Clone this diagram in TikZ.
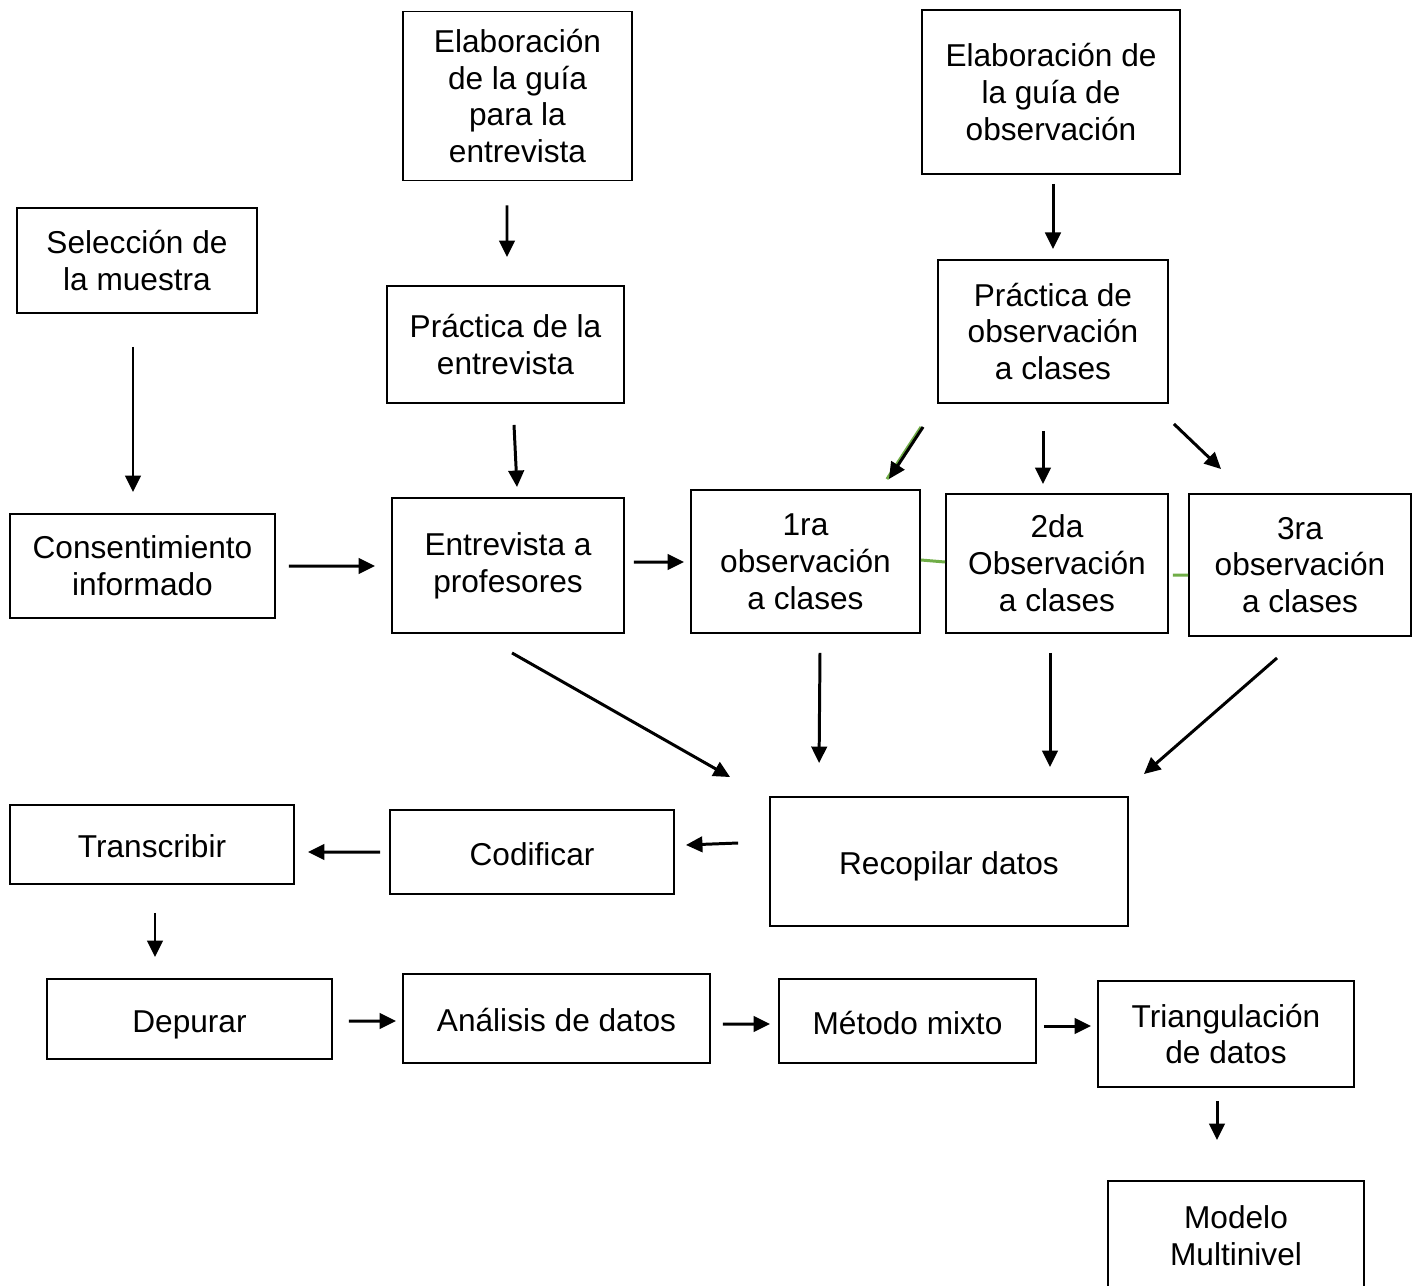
\documentclass[tikz,border=0pt]{standalone}
\usepackage{fontspec}
\setmainfont{Liberation Sans}
\usetikzlibrary{calc}
\usetikzlibrary{arrows.meta}

\definecolor{ogreen}{RGB}{112,173,71}

\begin{document}
\begin{tikzpicture}[x=0.02cm, y=-0.02cm,
    box/.style={draw, line width=1.1pt, inner sep=0pt, align=center,
        font=\fontsize{18}{21}\selectfont},
    one/.style={text height=0.65cm, text depth=0.13cm},
    arr/.style={line width=1.7pt, -{Triangle[length=0.33cm, width=0.31cm]}},
    grn/.style={draw=ogreen, line width=1.7pt}]
\clip (0, 0) rectangle (1418, 1286);
\fill[white] (0, 0) rectangle (1418, 1286);

% top row
\node[box, minimum width=4.58cm, minimum height=3.38cm] (eg) at (517.5, 96)
    {Elaboración\\de la guía\\para la\\entrevista};
\node[box, minimum width=5.16cm, minimum height=3.28cm] (eo) at (1051, 92)
    {Elaboración de\\la guía de\\observación};
\node[box, minimum width=4.8cm, minimum height=2.1cm] (sel) at (137, 260.5)
    {Selección de\\la muestra};
\node[box, minimum width=4.74cm, minimum height=2.34cm] (pe) at (505.5, 344.5)
    {Práctica de la\\entrevista};
\node[box, minimum width=4.6cm, minimum height=2.86cm] (po) at (1053, 331.5)
    {Práctica de\\observación\\a clases};

% middle row
\node[box, minimum width=5.3cm, minimum height=2.08cm] (cons) at (142.5, 566)
    {Consentimiento\\informado};
\node[box, minimum width=4.64cm, minimum height=2.7cm] (ent) at (508, 565.5)
    {Entrevista a\\profesores};
\node[box, minimum width=4.58cm, minimum height=2.86cm] (obs1) at (805.5, 561.5)
    {1ra\\observación\\a clases};
\node[box, minimum width=4.44cm, minimum height=2.78cm] (obs2) at (1057, 563.5)
    {2da\\Observación\\a clases};
\node[box, minimum width=4.44cm, minimum height=2.84cm] (obs3) at (1300, 565)
    {3ra\\observación\\a clases};

% lower rows
\node[box, one, minimum width=7.16cm, minimum height=2.58cm] (rec) at (949, 861.5)
    {Recopilar datos};
\node[box, one, minimum width=5.68cm, minimum height=1.68cm] (cod) at (532, 852)
    {Codificar};
\node[box, one, minimum width=5.68cm, minimum height=1.58cm] (tra) at (152, 844.5)
    {Transcribir};
\node[box, one, minimum width=5.7cm, minimum height=1.6cm] (dep) at (189.5, 1019)
    {Depurar};
\node[box, one, minimum width=6.14cm, minimum height=1.78cm] (ana) at (556.5, 1018.5)
    {Análisis de datos};
\node[box, one, minimum width=5.14cm, minimum height=1.68cm] (met) at (907.5, 1021)
    {Método mixto};
\node[box, minimum width=5.12cm, minimum height=2.12cm] (tri) at (1226, 1034)
    {Triangulación\\de datos};
\node[box, minimum width=5.12cm, minimum height=2.2cm] (mod) at (1236, 1236)
    {Modelo\\Multinivel};

% arrows
\draw[arr] ($(eg.south)+(-10.5,24)$) -- ($(pe.north)+(1.5,-28)$);
\draw[arr] ($(eo.south)+(2,9)$) -- ($(eo.south)+(2,74)$);
\draw[arr] ($(sel.south)+(-4,33)$) -- ($(cons.north)+(-9.5,-21)$);
\draw[arr] ($(pe.south)+(8.5,21)$) -- ($(ent.north)+(9,-10)$);

\draw[grn] ($(po.south west)+(-16,23)$) -- ($(obs1.north east)+(-34,-10)$);
\draw[arr] ($(po.south west)+(-14,23)$) -- ($(obs1.north east)+(-32,-10)$);
\draw[arr] ($(po.south)+(-10,27)$) -- ($(obs2.north)+(-14,-9)$);
\draw[arr] ($(po.south east)+(5,20)$) -- ($(obs3.north west)+(33,-24)$);

\draw[arr] ($(cons.east)+(13,0)$) -- ($(ent.west)+(-16,0.5)$);
\draw[arr] ($(ent.east)+(9,-3.5)$) -- ($(obs1.west)+(-6,0.5)$);
\draw[grn] ($(obs1.east)+(0,-1.5)$) -- ($(obs2.west)+(0,-1.5)$);
\draw[grn] ($(obs2.east)+(4,11.5)$) -- ($(obs3.west)+(0,10)$);

\draw[arr] ($(ent.south)+(4,19)$) -- ($(rec.north west)+(-39,-19)$);
\draw[arr] ($(obs1.south)+(14.5,19)$) -- ($(rec.north west)+(50,-33)$);
\draw[arr] ($(obs2.south)+(-7,19)$) -- ($(rec.north)+(101,-29)$);
\draw[arr] ($(obs3.south)+(-23,21)$) -- ($(rec.north east)+(15,-22)$);

\draw[arr] ($(rec.west)+(-31,-18.5)$) -- ($(cod.east)+(11,-7)$);
\draw[arr] ($(cod.west)+(-9,0)$) -- ($(tra.east)+(13,7.5)$);
\draw[arr] ($(tra.south)+(3,28)$) -- ($(dep.north)+(-34.5,-21)$);
\draw[arr] ($(dep.east)+(16,2)$) -- ($(ana.west)+(-6,2.5)$);
\draw[arr] ($(ana.east)+(12,5.5)$) -- ($(met.west)+(-8,3)$);
\draw[arr] ($(met.east)+(7,5)$) -- ($(tri.west)+(-6,-8)$);
\draw[arr] ($(tri.south)+(-9,13)$) -- ($(mod.north)+(-19,-40)$);
\end{tikzpicture}
\end{document}
